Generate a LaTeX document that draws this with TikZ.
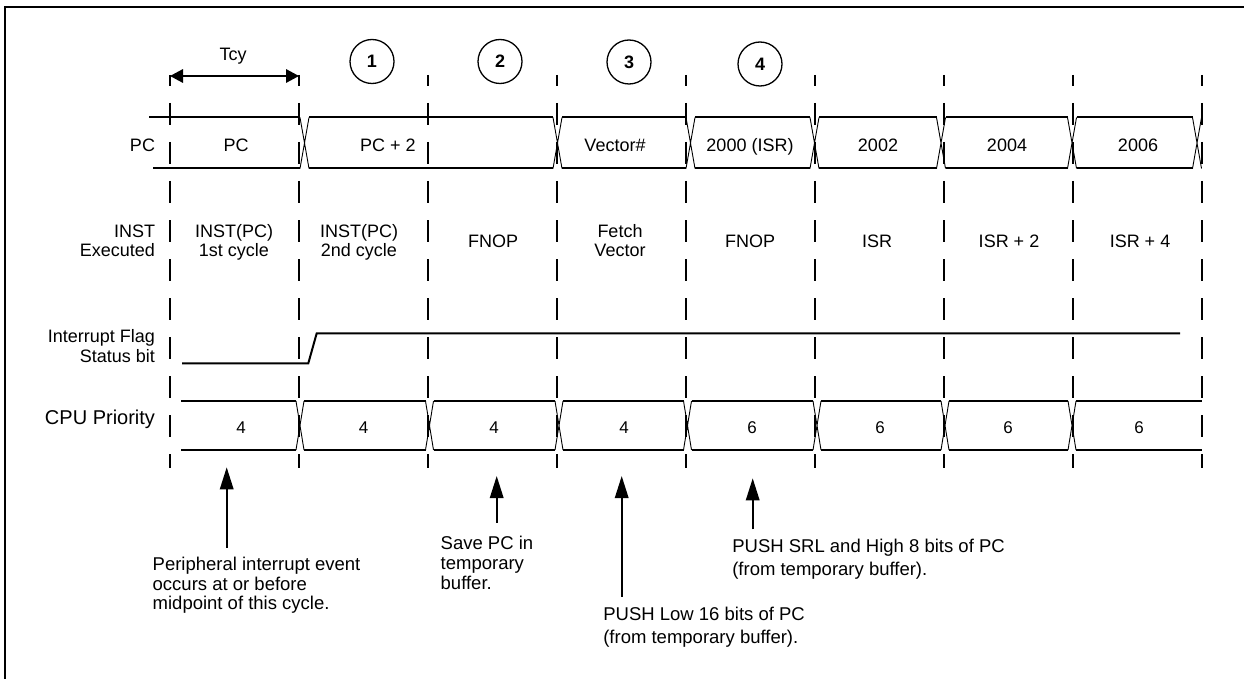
\documentclass[tikz,border=0pt]{standalone}
\usepackage{fontspec}
\setmainfont{Liberation Sans}
\usetikzlibrary{arrows.meta}
\begin{document}
\begin{tikzpicture}[x=1pt,y=-1pt,
  txt/.style={inner sep=0pt, outer sep=0pt, font=\fontsize{18}{19.3}\selectfont},
  big/.style={inner sep=0pt, outer sep=0pt, font=\fontsize{20}{22}\selectfont},
  dig/.style={inner sep=0pt, outer sep=0pt, font=\fontsize{17}{19}\selectfont},
  ann/.style={inner sep=0pt, outer sep=0pt, align=left, anchor=base west},
  circ/.style={circle, draw, line width=1.3pt, minimum size=44pt, inner sep=0pt, font=\fontsize{18}{20}\selectfont\bfseries},
  sig/.style={line width=2pt},
  xline/.style={line width=0.9pt},
  bnd/.style={line width=2pt, dash pattern=on 22pt off 17pt, dash phase=11pt},
  annarrow/.style={line width=2pt, -{Triangle[length=22pt,width=13.4pt]}},
  tcyarrow/.style={line width=2pt, {Triangle[length=13pt,width=13.4pt]}-{Triangle[length=13pt,width=13.4pt]}}
]
\fill[white] (0,0) rectangle (1244,679);
\useasboundingbox (0,0) rectangle (1244,679);

% frame
\draw[line width=2.5pt] (5,690) -- (5,7) -- (1260,7);

% cycle boundaries
\foreach \i in {0,...,8} \draw[bnd] ({170+129*\i},75) -- ({170+129*\i},468);

% Tcy
\coordinate (tcyL) at (170,76);
\coordinate (tcyR) at (299,76);
\draw[tcyarrow] (tcyL) -- (tcyR);
\node[txt, anchor=base] (tcy) at (233,61) {Tcy};

% step circles
\node[circ] (c1) at (372,61.5) {1};
\node[circ] (c2) at (500,61.5) {2};
\node[circ] (c3) at (629,62) {3};
\node[circ] (c4) at (760,64) {4};

% PC row
\draw[sig] (149,117.5) -- (300,117.5);
\draw[sig] (153,168.5) -- (300,168.5);
\foreach \a/\b in {309/553, 562/686, 695/810, 819/936.5, 945.5/1067.5, 1076.5/1192.5}
  \draw[sig] (\a,117.5) -- (\b,117.5) (\a,168.5) -- (\b,168.5);
\foreach \c in {304.5, 557.5, 690.5, 814.5, 941, 1072, 1197}
  \draw[xline] (\c-4.5,117.5) -- (\c+4.5,168.5) (\c-4.5,168.5) -- (\c+4.5,117.5);

\node[txt, anchor=base east] (lpc) at (155,151.7) {PC};
\node[txt, anchor=base] (pc0) at (236,151.7) {PC};
\node[txt, anchor=base] (pc1) at (388,151.7) {PC + 2};
\node[txt, anchor=base] (pc2) at (615,151.7) {Vector\#};
\node[txt, anchor=base] (pc3) at (750,151.7) {2000 (ISR)};
\node[txt, anchor=base] (pc4) at (878,151.7) {2002};
\node[txt, anchor=base] (pc5) at (1007,151.7) {2004};
\node[txt, anchor=base] (pc6) at (1138,151.7) {2006};

% INST row (base anchor = last line)
\node[txt, align=right, anchor=base east] (linst) at (155,256.3) {INST\\Executed};
\node[txt, align=center, anchor=base] (i0) at (234,256.3) {INST(PC)\\1st cycle};
\node[txt, align=center, anchor=base] (i1) at (359,256.3) {INST(PC)\\2nd cycle};
\node[txt, anchor=base] (i2) at (493,247) {FNOP};
\node[txt, align=center, anchor=base] (i3) at (620,256.3) {Fetch\\Vector};
\node[txt, anchor=base] (i4) at (750,247) {FNOP};
\node[txt, anchor=base] (i5) at (877,247) {ISR};
\node[txt, anchor=base] (i6) at (1009,247) {ISR + 2};
\node[txt, anchor=base] (i7) at (1140,247) {ISR + 4};

% Interrupt flag
\node[txt, align=right, anchor=base east] (lflag) at (155,362) {Interrupt Flag\\Status bit};
\draw[sig] (182,363.3) -- (308.3,363.3) -- (316.7,333.3) -- (1180,333.3);

% CPU priority row
\node[big, anchor=base east] (lcpu) at (155,424) {CPU Priority};
\foreach \a/\b in {181/296, 304/425.5, 433.5/555, 563/683.5, 691.5/813, 821/941, 949/1068, 1076/1202}
  \draw[sig] (\a,401) -- (\b,401) (\a,450) -- (\b,450);
\foreach \c in {300, 429.5, 559, 687.5, 817, 945, 1072}
  \draw[xline] (\c-4,401) -- (\c+4,450) (\c-4,450) -- (\c+4,401);
\node[dig, anchor=base] (p0) at (241,433.3) {4};
\node[dig, anchor=base] (p1) at (363.5,433.3) {4};
\node[dig, anchor=base] (p2) at (494,433.3) {4};
\node[dig, anchor=base] (p3) at (624,433.3) {4};
\node[dig, anchor=base] (p4) at (752,433.3) {6};
\node[dig, anchor=base] (p5) at (880,433.3) {6};
\node[dig, anchor=base] (p6) at (1008,433.3) {6};
\node[dig, anchor=base] (p7) at (1139,433.3) {6};

% annotations (base anchor = last line)
\node[ann, font=\fontsize{18.5}{19.3}\selectfont] (a1) at (152.7,609.3) {Peripheral interrupt event\\occurs at or before\\midpoint of this cycle.};
\coordinate (a1tip) at (226.7,467.3);
\coordinate (a1tail) at (226.7,547.7);
\draw[annarrow] (a1tail) -- (a1tip);

\node[ann, font=\fontsize{18.5}{20}\selectfont] (a2) at (440.7,589.3) {Save PC in\\temporary\\buffer.};
\coordinate (a2tip) at (496.7,476);
\coordinate (a2tail) at (496.7,522.7);
\draw[annarrow] (a2tail) -- (a2tip);

\node[ann, font=\fontsize{18.5}{22.3}\selectfont] (a3) at (603.3,643) {PUSH Low 16 bits of PC\\(from temporary buffer).};
\coordinate (a3tip) at (621.7,476);
\coordinate (a3tail) at (621.7,596.7);
\draw[annarrow] (a3tail) -- (a3tip);

\node[ann, font=\fontsize{18.5}{22.3}\selectfont] (a4) at (732.3,575) {PUSH SRL and High 8 bits of PC\\(from temporary buffer).};
\coordinate (a4tip) at (752.7,478.3);
\coordinate (a4tail) at (752.7,529.3);
\draw[annarrow] (a4tail) -- (a4tip);
\end{tikzpicture}
\end{document}
